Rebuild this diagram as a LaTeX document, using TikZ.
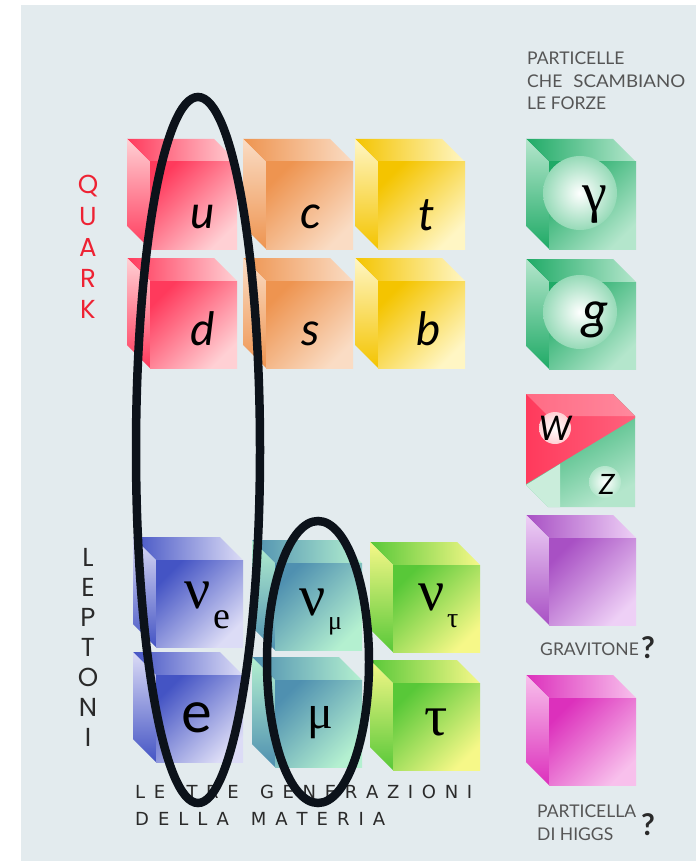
\documentclass[tikz,border=0pt]{standalone}
\usepackage{fontspec}
\setmainfont{Lato}
\newfontfamily\grk{Liberation Serif}
\newfontfamily\geo{Poppins}
\newfontfamily\wide{DejaVu Sans}
\usetikzlibrary{calc}

% colour families: A = deep, C = pale
\definecolor{bgpanel}{HTML}{E3EBEE}
\definecolor{qrA}{HTML}{FF3A5C}\definecolor{qrC}{HTML}{FFD0D4}
\definecolor{qoA}{HTML}{EE9450}\definecolor{qoC}{HTML}{FADCC4}
\definecolor{qyA}{HTML}{F4C400}\definecolor{qyC}{HTML}{FFF6C4}
\definecolor{lbA}{HTML}{4454C4}\definecolor{lbC}{HTML}{DCDCF6}
\definecolor{ltA}{HTML}{4F90B0}\definecolor{ltC}{HTML}{B4F0D0}
\definecolor{lgA}{HTML}{58C838}\definecolor{lgC}{HTML}{F6F888}
\definecolor{bgA}{HTML}{1FAA66}\definecolor{bgC}{HTML}{B4E6CC}
\definecolor{pvA}{HTML}{A850C4}\definecolor{pvC}{HTML}{EED0F6}
\definecolor{pmA}{HTML}{DC30BC}\definecolor{pmC}{HTML}{F8C0EC}
\definecolor{quarkred}{HTML}{EE2233}
\definecolor{inkgray}{HTML}{555555}
\definecolor{inkdark}{HTML}{2A2A2A}
\definecolor{ringblack}{HTML}{0C121A}

% a cube seen from the upper left: top face, left face, front face
\newcommand\cubeat[3]{%
  \shade[left color=#3A, right color=#3C] (#1,#2) -- ++(87,0) -- ++(23,23) -- ++(-87,0) -- cycle;
  \shade[top color=#3C, bottom color=#3A] (#1,#2) -- ++(23,23) -- ++(0,87) -- ++(-23,-23) -- cycle;
  \shade[top color=#3A, bottom color=#3C, shading angle=45] (#1+23,#2+23) rectangle ++(87,87);
}

% letters spread evenly over a given width
\newcommand\spreadto[2]{\makebox[#1][s]{#2}}
\newcommand\wgap{\hfil\hspace{4pt}\hfil}

\tikzset{
  sym/.style={inner sep=0pt, anchor=base, text=black},
  latin/.style={sym, font=\itshape\fontsize{46}{46}\selectfont},
  greek/.style={sym, font=\grk\fontsize{58}{58}\selectfont},
  sub/.style={inner sep=0pt, anchor=base west, text=black, font=\grk\fontsize{38}{38}\selectfont},
  caption/.style={inner sep=0pt, anchor=base west, text=inkgray, font=\fontsize{17.5}{17.5}\selectfont},
  query/.style={inner sep=0pt, anchor=base, text=inkdark, font=\bfseries\fontsize{30}{30}\selectfont},
  vletter/.style={inner sep=0pt, anchor=center, font=\geo\fontsize{26}{26}\selectfont},
  genline/.style={inner sep=0pt, anchor=base west, text=inkdark, font=\wide\fontsize{18}{18}\selectfont},
  ring/.style={draw=ringblack, line width=8.5pt},
}

\begin{document}
\begin{tikzpicture}[x=1pt, y=-1pt]
\useasboundingbox (0,0) rectangle (696,861);
\fill[white] (0,0) rectangle (696,861);
\fill[bgpanel] (21,5) rectangle (696,861);

% quarks
\cubeat{127}{139}{qr}
\cubeat{243}{139}{qo}
\cubeat{355}{139}{qy}
\cubeat{127}{258}{qr}
\cubeat{243}{258}{qo}
\cubeat{355}{258}{qy}
\node[latin] (u) at (203,228) {u};
\node[latin] (c) at (311,228) {c};
\node[latin] (t) at (427,230) {t};
\node[latin] (d) at (203,345) {d};
\node[latin] (s) at (311,345) {s};
\node[latin] (b) at (429,345) {b};

% leptons
\cubeat{133}{537}{lb}
\cubeat{252}{540}{lt}
\cubeat{370}{542}{lg}
\cubeat{133}{652}{lb}
\cubeat{252}{657}{lt}
\cubeat{370}{660}{lg}
\node[greek] (nue) at (198,608) {ν};
\node[sub] (nue-i) at (213,628) {e};
\node[greek] (numu) at (313,615) {ν};
\node[sub, font=\grk\fontsize{26}{26}\selectfont] (numu-i) at (328,629) {μ};
\node[greek] (nutau) at (432,610) {ν};
\node[sub, font=\grk\fontsize{28}{28}\selectfont] (nutau-i) at (447,627) {τ};
\node[sym, font=\fontsize{58}{58}\selectfont] (e) at (197,732) {e};
\node[greek, font=\grk\fontsize{48}{48}\selectfont] (mu) at (320,728) {μ};
\node[greek] (tau) at (436,735) {τ};

% force carriers
\cubeat{526}{139}{bg}
\cubeat{526}{259}{bg}
\shade[inner color=white, outer color=bgC!80!bgA] (580,193) circle (37);
\shade[inner color=white, outer color=bgC!80!bgA] (580,312) circle (37);
\node[greek, font=\grk\fontsize{56}{56}\selectfont] (gamma) at (595,211) {γ};
\node[latin, font=\itshape\fontsize{52}{52}\selectfont] (g) at (595,328) {g};

% W and Z share one cube
\shade[top color=bgA, bottom color=bgC, shading angle=30]
  (526,394) -- (613,394) -- (635,416) -- (635,507) -- (548,507) -- (526,485) -- cycle;
\fill[bgC!70!white] (526,485) -- (548,507) -- (560,507) -- (560,464) -- cycle;
\shade[left color=qrA, right color=qrA!80!white]
  (526,394) -- (613,394) -- (635,416) -- (635,418) -- (526,484) -- cycle;
\fill[white, opacity=0.25] (526,394) -- (613,394) -- (635,416) -- (548,416) -- cycle;
\shade[inner color=white, outer color=qrC] (555,428) circle (16);
\shade[inner color=white, outer color=bgC] (605,482) circle (16);
\node[latin, font=\itshape\fontsize{34}{34}\selectfont] (W) at (555,440) {W};
\node[latin, font=\itshape\fontsize{28}{28}\selectfont] (Z) at (607,494) {Z};

% hypothetical particles
\cubeat{526}{515}{pv}
\cubeat{526}{675}{pm}

% captions
\node[caption] (cap1) at (527,65) {PARTICELLE};
\node[caption] (cap2) at (527,88) {CHE\hspace{11pt}\scalebox{1.07}[1]{SCAMBIANO}};
\node[caption] (cap3) at (527,110) {LE FORZE};
\node[caption] (grav) at (540,655) {GRAVITONE};
\node[query] (grav-q) at (648,658) {?};
\node[caption] (higgs1) at (537,817) {PARTICELLA};
\node[caption] (higgs2) at (537,840) {DI HIGGS};
\node[query] (higgs-q) at (648,835) {?};

% family labels, one letter per line
\foreach \ch [count=\i from 0] in {Q,U,A,R,K}
  \node[vletter, text=quarkred] (quark-\i) at (88,186+30.8*\i) {\ch};
\foreach \ch [count=\i from 0] in {L,E,P,T,O,N,I}
  \node[vletter, text=inkdark] (lepton-\i) at (88,557+30*\i) {\ch};

\node[genline] (gen1) at (135,798)
  {\spreadto{337pt}{L\hfil E\wgap T\hfil R\hfil E\wgap G\hfil E\hfil N\hfil E\hfil R\hfil A\hfil Z\hfil I\hfil O\hfil N\hfil I}};
\node[genline] (gen2) at (135,825)
  {\spreadto{250pt}{D\hfil E\hfil L\hfil L\hfil A\wgap M\hfil A\hfil T\hfil E\hfil R\hfil I\hfil A}};

% generation rings
\draw[ring] (198,450) ellipse [x radius=62, y radius=353];
\draw[ring] (318,662) ellipse [x radius=51, y radius=141];
\end{tikzpicture}
\end{document}
